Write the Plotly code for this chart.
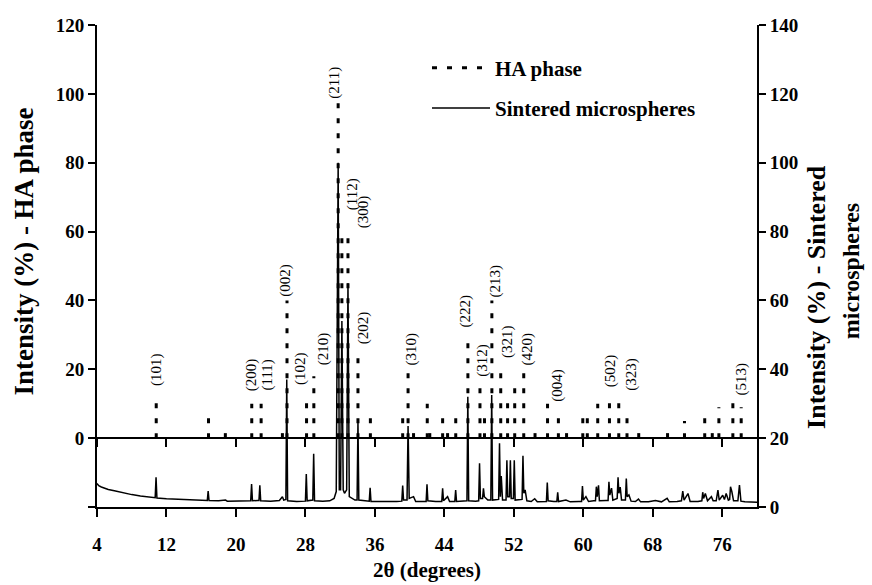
import plotly.graph_objects as go

# ---------------- data ----------------
# HA phase reference pattern (2theta, relative intensity %) - left axis
ha_pos = [10.82, 16.84, 18.78, 21.82, 22.90, 25.35, 25.88, 28.13, 28.97, 31.77,
          32.20, 32.90, 34.05, 35.48, 39.20, 39.82, 40.45, 42.03, 42.32, 43.80,
          44.37, 45.31, 46.71, 48.10, 48.62, 49.47, 50.49, 51.28, 52.10, 53.14,
          54.44, 55.88, 57.13, 58.07, 59.94, 60.46, 61.66, 63.01, 64.08, 65.03,
          66.38, 69.70, 71.65, 73.98, 74.85, 75.61, 77.22, 78.18]
ha_int = [12, 6, 4, 10, 10, 2, 40, 12, 18, 100,
          60, 60, 25, 6, 8, 20, 2, 10, 4, 7,
          2, 6, 30, 16, 6, 40, 20, 12, 16, 20,
          4, 10, 8, 4, 6, 6, 10, 12, 13, 6,
          4, 3, 5, 7, 3, 9, 11, 9]

# Miller-index labels and where they sit (2theta, left-axis value of label centre)
lab_text = ["(101)", "(200)", "(111)", "(002)", "(102)", "(210)", "(211)", "(112)",
            "(300)", "(202)", "(310)", "(222)", "(312)", "(213)", "(321)", "(420)",
            "(004)", "(502)", "(323)", "(513)"]
lab_x = [10.83, 21.75, 23.66, 25.77, 27.49, 30.17, 31.32, 33.43,
         34.77, 34.77, 40.32, 46.46, 48.37, 49.94, 51.24, 53.54,
         57.07, 63.13, 65.61, 78.18]
lab_y = [19.9, 18.3, 18.4, 45.7, 20.4, 25.9, 103.3, 70.7,
         65.7, 32.0, 25.9, 37.0, 22.6, 45.8, 28.0, 25.8,
         15.5, 19.6, 18.4, 17.1]

# Sintered microspheres measured pattern (2theta, intensity %) - right axis
sint_x = [4.0, 4.2, 4.5, 4.8, 5.3, 6.0, 7.0, 8.0, 9.0, 10.0, 10.7, 10.8, 10.9,
          12.0, 13.0, 14.0, 15.0, 16.0, 16.7, 16.8, 16.9, 18.0, 18.8, 19.0,
          20.0, 21.0, 21.7, 21.8, 21.9, 22.5, 22.65, 22.75, 22.85, 24.0, 25.0,
          25.35, 25.5, 25.75, 25.85, 25.95, 27.0, 28.0, 28.1, 28.2, 28.6, 28.85,
          28.95, 29.05, 30.0, 30.8, 31.3, 31.55, 31.77, 31.9, 32.05, 32.2, 32.35,
          32.5, 32.75, 32.9, 33.05, 33.7, 33.95, 34.05, 34.15, 35.0, 35.35,
          35.45, 35.55, 36.5, 37.5, 38.5, 39.1, 39.2, 39.3, 39.7, 39.82, 39.95,
          40.45, 40.7, 41.5, 41.9, 42.0, 42.1, 43.0, 43.7, 43.8, 43.9, 44.37,
          44.6, 45.2, 45.3, 45.4, 46.3, 46.6, 46.7, 46.8, 47.6, 47.95, 48.05,
          48.15, 48.4, 48.5, 48.6, 49.0, 49.35, 49.45, 49.55, 50.0, 50.25,
          50.35, 50.45, 50.55, 50.7, 51.1, 51.2, 51.3, 51.5, 51.6, 51.7, 51.95,
          52.05, 52.15, 52.7, 52.95, 53.05, 53.15, 53.3, 53.5, 54.0, 54.4,
          54.7, 55.5, 55.75, 55.85, 55.95, 56.6, 56.95, 57.05, 57.15, 58.0,
          58.5, 59.5, 59.8, 59.9, 60.0, 60.3, 60.6, 61.2, 61.4, 61.5, 61.6,
          61.75, 61.85, 62.6, 62.85, 62.95, 63.05, 63.25, 63.4, 63.9, 64.0,
          64.1, 64.25, 64.4, 64.85, 64.95, 65.05, 65.25, 65.5, 66.0, 66.35,
          66.6, 67.5, 68.3, 69.0, 69.65, 69.9, 70.8, 71.3, 71.45, 71.6, 72.05,
          72.3, 73.2, 73.65, 73.75, 73.85, 74.05, 74.3, 74.75, 74.95, 75.3,
          75.5, 75.65, 76.05, 76.25, 76.45, 76.7, 76.85, 76.95, 77.1, 77.3,
          77.8, 77.98, 78.15, 78.6, 79.5, 80.0]
sint_y = [6.8, 6.2, 5.8, 5.5, 5.1, 4.7, 4.1, 3.6, 3.2, 2.9, 2.7, 8.6, 2.6,
          2.4, 2.3, 2.2, 2.1, 2.0, 1.9, 4.6, 1.9, 1.8, 2.0, 1.7,
          1.7, 1.7, 1.8, 6.7, 1.8, 1.9, 1.9, 6.3, 1.8, 1.7, 1.9,
          3.0, 2.0, 2.2, 37.0, 1.8, 1.6, 1.7, 9.6, 1.8, 2.0, 2.0,
          15.5, 1.8, 1.7, 1.8, 2.5, 4.5, 100.0, 5.0, 5.0, 54.0, 5.0,
          4.0, 5.0, 65.0, 3.0, 2.0, 2.0, 24.7, 2.0, 1.7, 1.7,
          5.6, 1.6, 1.6, 1.5, 1.6, 1.7, 6.2, 2.0, 2.0, 23.5, 2.5,
          3.0, 1.6, 1.6, 1.6, 6.6, 1.8, 1.6, 1.6, 5.4, 1.8, 3.0,
          1.6, 1.6, 4.9, 1.6, 1.7, 1.8, 32.0, 1.8, 1.7, 1.8, 12.7,
          2.5, 2.5, 5.4, 3.0, 2.0, 2.0, 32.5, 2.0, 2.2, 2.2,
          18.5, 3.0, 9.0, 2.0, 2.0, 13.6, 3.0, 3.0, 13.6, 2.5, 2.5,
          13.6, 2.0, 2.2, 2.2, 14.9, 4.0, 5.0, 1.8, 1.6, 2.4,
          1.5, 1.6, 1.6, 7.1, 1.8, 1.6, 1.6, 4.3, 1.6, 2.0,
          1.5, 1.6, 1.6, 6.1, 2.0, 3.0, 1.6, 1.8, 1.8, 5.9, 3.0,
          6.3, 1.8, 1.9, 1.9, 7.3, 3.5, 5.5, 2.0, 2.5, 8.6,
          4.0, 5.8, 2.0, 2.0, 8.3, 3.0, 3.5, 1.7, 1.6, 2.3,
          1.5, 1.5, 1.9, 1.5, 2.5, 1.5, 1.6, 1.8, 4.6, 2.0, 3.9,
          1.6, 1.6, 1.8, 4.3, 2.5, 3.9, 1.8, 3.0, 1.8, 1.8,
          4.9, 2.0, 3.4, 2.2, 3.9, 2.0, 2.2, 5.9, 4.5, 1.8,
          1.8, 6.4, 1.7, 1.5, 1.4, 1.4]

x_ticks = [4, 12, 20, 28, 36, 44, 52, 60, 68, 76]
left_ticks = [-20, 0, 20, 40, 60, 80, 100, 120]
left_tick_text = ["", "0", "20", "40", "60", "80", "100", "120"]
right_ticks = [0, 20, 40, 60, 80, 100, 120, 140]

# ---------------- figure ----------------
FONT = "Liberation Serif"
bold_tick = dict(family=FONT, size=19, color="black", weight="bold")

stick_x, stick_y = [], []
for p, h in zip(ha_pos, ha_int):
    stick_x += [p, p, None]
    stick_y += [0, h, None]

fig = go.Figure()
fig.add_trace(go.Scatter(
    x=stick_x, y=stick_y, mode="lines", name="HA phase",
    line=dict(color="black", width=3, dash="5px,10px"),
    xaxis="x", yaxis="y", legendgroup="a", hoverinfo="skip"))
fig.add_trace(go.Scatter(
    x=sint_x, y=sint_y, mode="lines", name="Sintered microspheres",
    line=dict(color="black", width=1.5),
    xaxis="x", yaxis="y2", legendgroup="b"))
# empty helper trace so that the zero-line axis (with its ticks) is drawn
fig.add_trace(go.Scatter(x=[4, 80], y=[None, None], mode="lines", xaxis="x2",
                         yaxis="y2", showlegend=False, hoverinfo="skip"))

common_axis = dict(showgrid=False, zeroline=False, showline=True,
                   linecolor="black", linewidth=2, tickcolor="black", tickwidth=2)

fig.update_layout(
    width=872, height=585,
    margin=dict(l=97, r=115, t=25, b=78),
    paper_bgcolor="white", plot_bgcolor="white",
    font=dict(family=FONT, color="black"),
    xaxis=dict(range=[4, 80], tickvals=x_ticks, ticks="outside", ticklen=8,
               tickfont=bold_tick, ticklabelstandoff=11, anchor="y", side="bottom",
               **common_axis),
    xaxis2=dict(range=[4, 80], tickvals=x_ticks, ticks="outside", ticklen=8,
                showticklabels=False, overlaying="x", anchor="free",
                position=20 / 140, side="bottom", **common_axis),
    yaxis=dict(range=[-20, 120], tickvals=left_ticks, ticktext=left_tick_text,
               ticks="outside", ticklen=7, tickfont=bold_tick, ticksuffix=" ",
               anchor="x", side="left", **common_axis),
    yaxis2=dict(range=[0, 140], tickvals=right_ticks, ticks="outside", ticklen=7,
                tickfont=bold_tick, tickprefix="  ", overlaying="y",
                anchor="x", side="right", **common_axis),
    legend=dict(x=0.5, y=0.953, xanchor="left", yanchor="top",
                font=dict(family=FONT, size=21, color="black", weight="bold"),
                bgcolor="rgba(0,0,0,0)", tracegroupgap=10, itemwidth=58),
    showlegend=True,
)

# Miller index labels
for t, lx, ly in zip(lab_text, lab_x, lab_y):
    fig.add_annotation(x=lx, y=ly, xref="x", yref="y", text=t, textangle=-90,
                       showarrow=False, xanchor="center", yanchor="middle",
                       font=dict(family=FONT, size=15, color="black"))

# axis titles
fig.add_annotation(x=0.5, y=0, xref="paper", yref="paper", yshift=-63,
                   text="2θ (degrees)", showarrow=False, xanchor="center",
                   yanchor="middle",
                   font=dict(family=FONT, size=21, color="black", weight="bold"))
fig.add_annotation(x=-0.112, y=0.53, xref="paper", yref="paper",
                   text="Intensity (%) - HA phase", textangle=-90, showarrow=False,
                   xanchor="center", yanchor="middle",
                   font=dict(family=FONT, size=27, color="black", weight="bold"))
fig.add_annotation(x=1.091, y=0.436, xref="paper", yref="paper",
                   text="Intensity (%) - Sintered", textangle=-90,
                   showarrow=False, xanchor="center", yanchor="middle",
                   font=dict(family=FONT, size=26, color="black", weight="bold"))
fig.add_annotation(x=1.1416, y=0.49, xref="paper", yref="paper",
                   text="microspheres", textangle=-90,
                   showarrow=False, xanchor="center", yanchor="middle",
                   font=dict(family=FONT, size=24, color="black", weight="bold"))

# redraw the axes once the page has settled so that every tick mark is painted
post = r"""
var gd = document.getElementById('{plot_id}');
setTimeout(function(){
  Plotly.relayout(gd, {'yaxis.ticklen': 7.01, 'yaxis2.ticklen': 7.01,
                       'xaxis2.ticklen': 8.01, 'xaxis.ticklen': 8.01});
}, 150);
"""
fig.write_html("out.html", post_script=post)
